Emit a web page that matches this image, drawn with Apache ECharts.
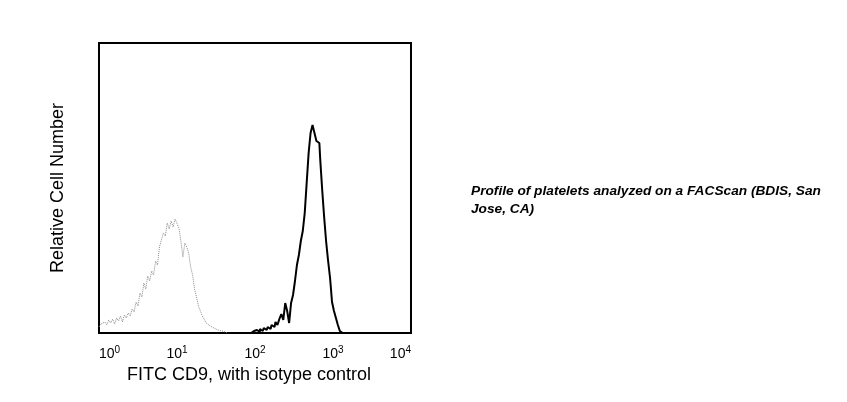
<!DOCTYPE html>
<html>
<head>
<meta charset="utf-8">
<script src="https://cdn.jsdelivr.net/npm/echarts@6/dist/echarts.min.js"></script>
<style>html,body{margin:0;padding:0;background:#fff;}#c{width:847px;height:402px;}</style>
</head>
<body>
<div id="c"></div>
<script>
// x values are log10 of fluorescence intensity (decades)
var isotypeX = [0.000,0.025,0.050,0.075,0.100,0.125,0.150,0.175,0.200,0.225,0.250,0.275,0.300,0.325,0.350,0.375,0.400,0.425,0.450,0.475,0.500,0.525,0.550,0.575,0.600,0.625,0.650,0.675,0.700,0.725,0.750,0.775,0.800,0.825,0.850,0.875,0.900,0.925,0.950,0.975,1.000,1.025,1.050,1.075,1.100,1.125,1.150,1.175,1.200,1.225,1.250,1.275,1.300,1.325,1.350,1.375,1.400,1.425,1.450,1.475,1.500,1.525,1.550,1.575,1.600,1.625,1.650];
var isotypeY = [6,9,7,11,8,13,10,14,9,15,12,17,11,18,15,20,17,24,21,31,27,40,36,50,44,57,52,62,58,72,68,86,93,100,97,110,104,112,106,114,116,105,92,76,90,86,80,66,58,44,36,27,22,17,15,10,11,7,8,5,6,3,4,2,2,1,0];
var cd9X = [1.950,1.975,2.000,2.025,2.050,2.075,2.100,2.125,2.150,2.175,2.200,2.225,2.250,2.275,2.300,2.325,2.350,2.375,2.400,2.425,2.450,2.475,2.500,2.525,2.550,2.575,2.600,2.625,2.650,2.675,2.700,2.725,2.750,2.775,2.800,2.825,2.850,2.875,2.900,2.925,2.950,2.975,3.000,3.025,3.050,3.075,3.100,3.125];
var cd9Y = [0,2,1,3,1,4,2,5,3,6,4,8,6,11,8,14,19,13,30,22,10,30,38,52,68,78,92,102,120,150,180,200,208,200,192,190,172,142,115,91,72,55,31,22,15,8,2,0];
var tickExponents = ['0','1','2','3','4'];
var xAxisTitle = 'FITC CD9, with isotype control';
var yAxisTitle = 'Relative Cell Number';
var caption = 'Profile of platelets analyzed on a FACScan (BDIS, San\nJose, CA)';

function pairs(xs, ys){ var out=[]; for(var i=0;i<xs.length;i++){ out.push([xs[i], ys[i]]); } return out; }

var FONT = 'Liberation Sans, Arial, sans-serif';
var chart = echarts.init(document.getElementById('c'), null, {renderer:'canvas'});
chart.setOption({
  animation:false,
  backgroundColor:'#fff',
  title:{
    text: caption,
    left: 466, top: 177,
    textStyle:{fontFamily:FONT, fontSize:13.7, fontWeight:'bold', fontStyle:'italic', color:'#000', lineHeight:18}
  },
  grid:{left:99, right:436, top:43, bottom:69, show:true, borderColor:'#000', borderWidth:2, containLabel:false},
  xAxis:{
    type:'value', min:0, max:4, interval:1,
    name: xAxisTitle, nameLocation:'middle', nameGap:25,
    nameTextStyle:{fontFamily:FONT, fontSize:18, color:'#000', padding:[0,12,0,0]},
    axisLine:{show:false}, axisTick:{show:false}, splitLine:{show:false},
    axisLabel:{
      margin:12, alignMinLabel:'left', alignMaxLabel:'right',
      formatter:function(v){ return '10{sup|' + tickExponents[Math.round(v)] + '}'; },
      fontFamily:FONT, fontSize:14, color:'#000',
      rich:{sup:{fontFamily:FONT, fontSize:10, color:'#000', verticalAlign:'top', padding:[0,0,8,0]}}
    }
  },
  yAxis:{
    type:'value', min:0, max:290,
    name: yAxisTitle, nameLocation:'middle', nameGap:32, nameRotate:90,
    nameTextStyle:{fontFamily:FONT, fontSize:18, color:'#000'},
    axisLine:{show:false}, axisTick:{show:false}, axisLabel:{show:false}, splitLine:{show:false}
  },
  series:[
    {type:'line', data:pairs(isotypeX, isotypeY), symbol:'none', lineStyle:{color:'#8c8c8c', width:1, type:[1,1]}, z:2},
    {type:'line', step:'middle', data:pairs(cd9X, cd9Y), symbol:'none', lineStyle:{color:'#000', width:2}, z:3}
  ]
});
</script>
</body>
</html>
